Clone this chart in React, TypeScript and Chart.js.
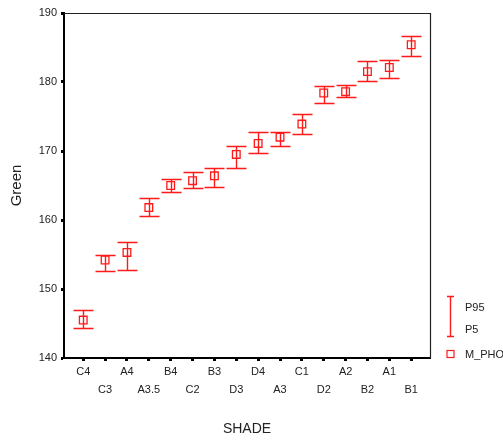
import React, { useEffect, useRef } from "react";
import { Chart, registerables } from "chart.js";

Chart.register(...registerables);

const shades = ["C4", "C3", "A4", "A3.5", "B4", "C2", "B3", "D3", "D4", "A3", "C1", "D2", "A2", "B2", "A1", "B1"];
const meanGreen = [145.5, 154.2, 155.3, 161.8, 165.0, 165.7, 166.4, 169.5, 171.1, 172.0, 173.9, 178.4, 178.6, 181.5, 182.1, 185.4];
const p95Green = [146.9, 154.9, 156.8, 163.2, 166.0, 166.9, 167.6, 170.7, 172.7, 172.7, 175.3, 179.4, 179.6, 183.0, 183.2, 186.7];
const p5Green = [144.4, 152.6, 152.8, 160.6, 164.1, 164.6, 164.8, 167.6, 169.7, 170.7, 172.5, 177.0, 177.8, 180.1, 180.6, 183.8];
const yTicks = [140, 150, 160, 170, 180, 190];
const legendLabels = ["P95", "P5", "M_PHOTO"];

const RED = "#ff1a1a";
const FONT = "'Liberation Sans', Arial, sans-serif";

const errorBarPlugin = {
  id: "errorBars",
  beforeDatasetsDraw(chart: any) {
    const { ctx, scales } = chart;
    const x = scales.x;
    const y = scales.y;
    ctx.save();
    ctx.strokeStyle = RED;
    ctx.lineWidth = 1.4;
    const cap = 10;
    shades.forEach((_, i) => {
      const px = Math.round(x.getPixelForValue(i)) + 0.5;
      const top = Math.round(y.getPixelForValue(p95Green[i])) + 0.5;
      const bot = Math.round(y.getPixelForValue(p5Green[i])) + 0.5;
      ctx.beginPath();
      ctx.moveTo(px, top);
      ctx.lineTo(px, bot);
      ctx.moveTo(px - cap, top);
      ctx.lineTo(px + cap, top);
      ctx.moveTo(px - cap, bot);
      ctx.lineTo(px + cap, bot);
      ctx.stroke();
    });
    ctx.restore();
  },
};

const framePlugin = {
  id: "frame",
  afterDraw(chart: any) {
    const { ctx, chartArea } = chart;
    const { left, right, top, bottom } = chartArea;
    ctx.save();
    ctx.strokeStyle = "#222";
    ctx.lineWidth = 1.2;
    ctx.beginPath();
    ctx.moveTo(left, top + 0.5);
    ctx.lineTo(right + 0.5, top + 0.5);
    ctx.lineTo(right + 0.5, bottom);
    ctx.stroke();

    // legend
    const lx = 450.5;
    ctx.strokeStyle = RED;
    ctx.lineWidth = 1.4;
    ctx.beginPath();
    ctx.moveTo(lx, 296.5);
    ctx.lineTo(lx, 336.5);
    ctx.moveTo(lx - 3.5, 296.5);
    ctx.lineTo(lx + 3.5, 296.5);
    ctx.moveTo(lx - 3.5, 336.5);
    ctx.lineTo(lx + 3.5, 336.5);
    ctx.stroke();
    ctx.lineWidth = 1.2;
    ctx.strokeRect(447, 350.5, 7, 7);

    ctx.fillStyle = "#222";
    ctx.font = `11px ${FONT}`;
    ctx.textBaseline = "middle";
    ctx.textAlign = "left";
    ctx.fillText(legendLabels[0], 465, 307.5);
    ctx.fillText(legendLabels[1], 465, 330);
    ctx.fillText(legendLabels[2], 465, 354.5);
    ctx.restore();
  },
};

export default function App() {
  const canvasRef = useRef<HTMLCanvasElement | null>(null);

  useEffect(() => {
    const canvas = canvasRef.current;
    if (!canvas) return;
    const chart = new Chart(canvas, {
      type: "scatter",
      data: {
        datasets: [
          {
            label: "M_PHOTO",
            data: meanGreen.map((v, i) => ({ x: i, y: v })),
            pointStyle: "rect",
            pointRadius: 5.4,
            pointBorderWidth: 1.3,
            borderColor: RED,
            backgroundColor: "rgba(0,0,0,0)",
            showLine: false,
          },
        ],
      },
      options: {
        responsive: false,
        animation: false,
        events: [],
        layout: { padding: { top: 13, right: 73, left: 0, bottom: 0 } },
        plugins: {
          legend: { display: false },
          tooltip: { enabled: false },
        },
        scales: {
          x: {
            type: "linear",
            min: -0.88,
            max: 15.86,
            afterBuildTicks: (scale: any) => {
              scale.ticks = shades.map((_, i) => ({ value: i }));
            },
            afterFit: (scale: any) => {
              scale.height = 83;
            },
            grid: {
              drawOnChartArea: false,
              drawTicks: true,
              tickLength: 3,
              tickWidth: 3,
              tickColor: "#000",
            },
            border: { display: true, color: "#000", width: 2 },
            ticks: {
              autoSkip: false,
              maxRotation: 0,
              padding: 2,
              color: "#222",
              font: { family: FONT, size: 11, lineHeight: 1.62 },
              callback: (value: any) => {
                const i = Math.round(Number(value));
                const label = shades[i] ?? "";
                return i % 2 === 0 ? [label, ""] : ["", label];
              },
            },
            title: {
              display: true,
              text: "SHADE",
              color: "#222",
              font: { family: FONT, size: 14 },
              padding: { top: 0, bottom: 3 },
            },
          },
          y: {
            type: "linear",
            min: 140,
            max: 190,
            afterBuildTicks: (scale: any) => {
              scale.ticks = yTicks.map((v) => ({ value: v }));
            },
            afterFit: (scale: any) => {
              scale.width = 64;
            },
            grid: {
              drawOnChartArea: false,
              drawTicks: true,
              tickLength: 3,
              tickWidth: 3,
              tickColor: "#000",
            },
            border: { display: true, color: "#000", width: 2 },
            ticks: {
              padding: 4,
              color: "#222",
              font: { family: FONT, size: 11 },
            },
            title: {
              display: true,
              text: "Green",
              color: "#222",
              font: { family: FONT, size: 15 },
              padding: { top: 8, bottom: 0 },
            },
          },
        },
      },
      plugins: [errorBarPlugin, framePlugin],
    } as any);
    return () => chart.destroy();
  }, []);

  return (
    <div style={{ position: "absolute", left: 0, top: 0, width: 503, height: 441, background: "#fff" }}>
      <canvas ref={canvasRef} width={503} height={441} style={{ display: "block" }} />
    </div>
  );
}
